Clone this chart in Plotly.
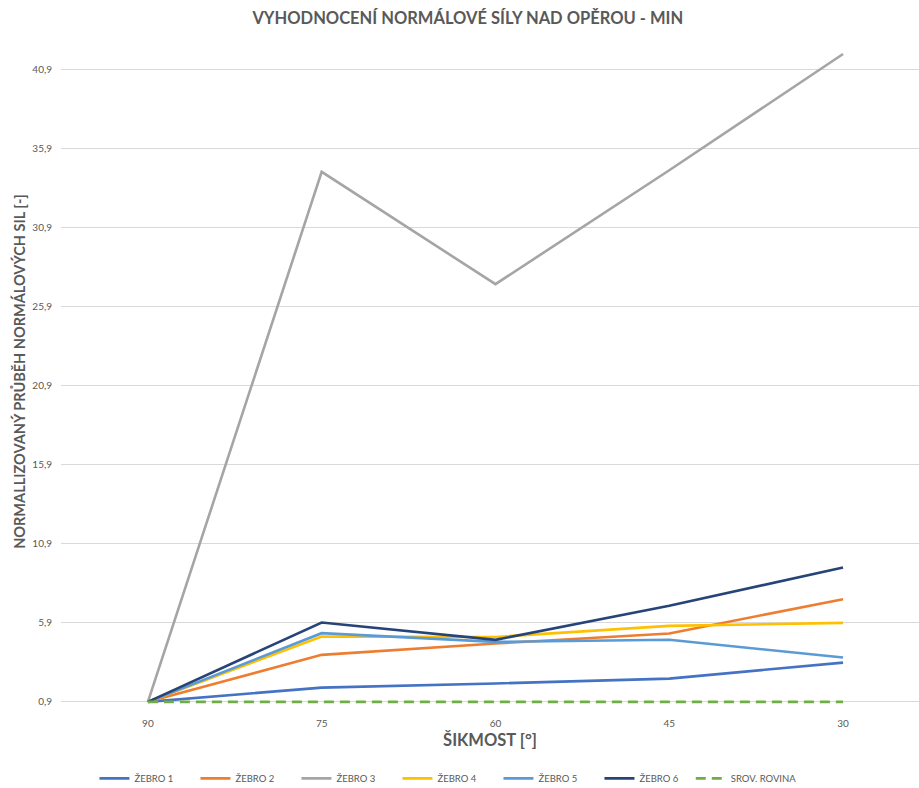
import plotly.graph_objects as go

# Skew angles (category axis, left to right)
categories = ["90", "75", "60", "45", "30"]

# Normalised normal-force course per rib
zebro_1 = [0.9, 1.80, 2.06, 2.37, 3.38]
zebro_2 = [0.9, 3.87, 4.59, 5.22, 7.39]
zebro_3 = [0.9, 34.40, 27.30, 34.50, 41.85]
zebro_4 = [0.9, 5.03, 5.00, 5.70, 5.89]
zebro_5 = [0.9, 5.24, 4.69, 4.82, 3.70]
zebro_6 = [0.9, 5.91, 4.82, 6.97, 9.39]
srov_rovina = [0.9, 0.9, 0.9, 0.9, 0.9]

y_ticks = [0.9, 5.9, 10.9, 15.9, 20.9, 25.9, 30.9, 35.9, 40.9]

series = [
    ("ŽEBRO 1", zebro_1, "#4472C4", "solid", "legend"),
    ("ŽEBRO 2", zebro_2, "#ED7D31", "solid", "legend"),
    ("ŽEBRO 3", zebro_3, "#A5A5A5", "solid", "legend"),
    ("ŽEBRO 4", zebro_4, "#FFC000", "solid", "legend"),
    ("ŽEBRO 5", zebro_5, "#5B9BD5", "solid", "legend"),
    ("ŽEBRO 6", zebro_6, "#264478", "solid", "legend"),
    ("SROV. ROVINA", srov_rovina, "#70AD47", "10px,6px", "legend2"),
]

FONT = "Lato"
GREY = "#595959"

fig = go.Figure()
for name, vals, color, dash, leg in series:
    fig.add_trace(go.Scatter(
        x=categories, y=vals, name=name, mode="lines", legend=leg,
        line=dict(color=color, width=2.8 if dash != "solid" else 2.6, dash=dash),
    ))

legend_font = dict(size=9.5, color=GREY, family=FONT)

fig.update_layout(
    width=919, height=788,
    margin=dict(l=61, r=0, t=38, b=83, autoexpand=False),
    paper_bgcolor="white", plot_bgcolor="white",
    separators=",.",
    font=dict(family=FONT, color=GREY),
    title=dict(
        text="<b>VYHODNOCENÍ NORMÁLOVÉ SÍLY NAD OPĚROU - MIN</b>",
        x=0.509, xanchor="center", y=0.977, yanchor="middle",
        font=dict(size=16.5, color=GREY, family=FONT),
    ),
    showlegend=True,
    legend=dict(
        orientation="h", x=0.039, xanchor="left", y=-0.11, yanchor="middle",
        entrywidth=56, entrywidthmode="pixels",
        font=legend_font, itemwidth=30,
    ),
    legend2=dict(
        orientation="h", x=0.734, xanchor="left", y=-0.11, yanchor="middle",
        font=legend_font, itemwidth=30,
    ),
)

fig.update_xaxes(
    type="category", range=[-0.5, 4.437],
    showgrid=False, zeroline=False, showline=False,
    ticks="", ticklabelstandoff=11,
    tickfont=dict(size=10, color=GREY),
    title=dict(text="<b>ŠIKMOST [°]</b>", font=dict(size=16.5, color=GREY), standoff=6),
)

fig.update_yaxes(
    range=[0.7, 42.86],
    tickvals=y_ticks, ticktext=[f"{v:.1f}".replace(".", ",") for v in y_ticks],
    showgrid=True, gridcolor="#D9D9D9", gridwidth=1,
    zeroline=False, showline=False, ticks="",
    ticklabelstandoff=8,
    tickfont=dict(size=10, color=GREY),
    title=dict(text="<b>NORMALLIZOVANÝ PRŮBĚH NORMÁLOVÝCH SIL [-]</b>",
               font=dict(size=14.5, color=GREY), standoff=3),
)

fig.write_html("out.html")
